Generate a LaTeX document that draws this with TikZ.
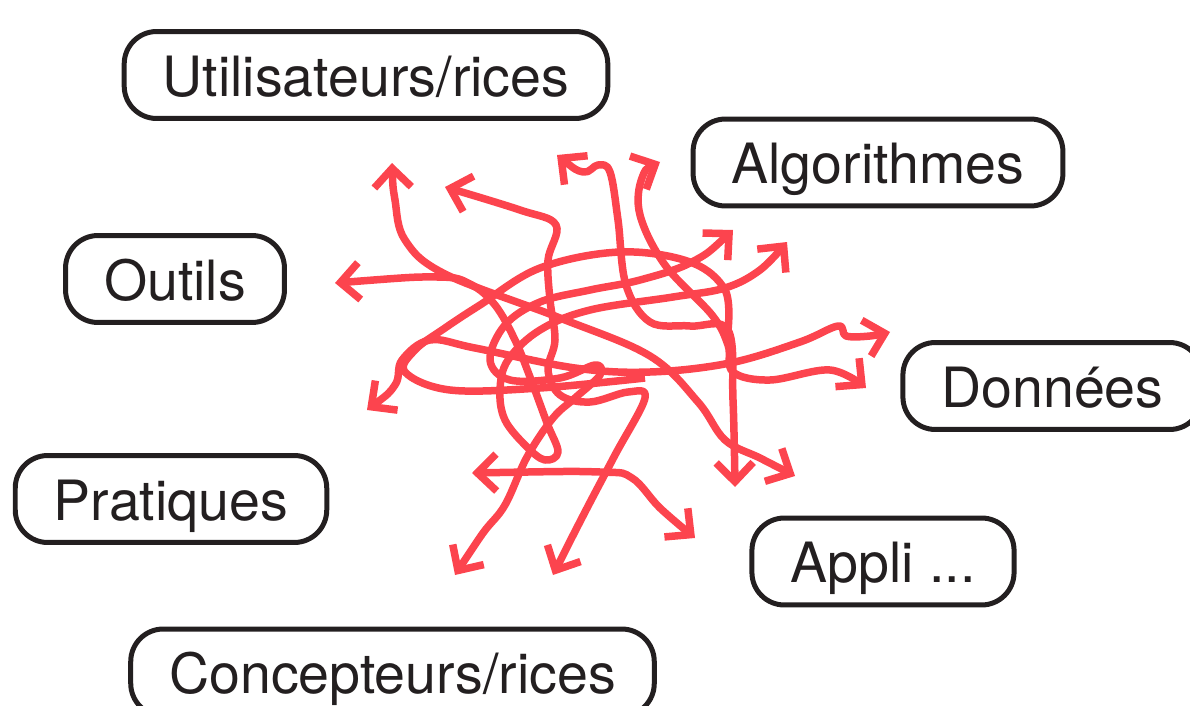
\documentclass[tikz,border=0pt]{standalone}
\usepackage{fontspec}
\setmainfont{TeX Gyre Heros}
\usetikzlibrary{arrows.meta}
\definecolor{rojo}{RGB}{252,68,78}
\definecolor{tinta}{RGB}{35,31,32}

\begin{document}
\begin{tikzpicture}[x=0.02cm, y=-0.02cm,
    caja/.style={draw=tinta, text=tinta, line width=0.1cm, rounded corners=0.65cm,
      minimum height=1.74cm, inner xsep=0.77cm, text height=24pt, text depth=0pt,
      font=\fontsize{31.6}{37}\selectfont},
    >={Straight Barb[length=3.8mm,width=7.4mm]},
    hilo/.style={draw=rojo, line width=0.15cm, line join=round, <->},
    suelto/.style={draw=rojo, line width=0.15cm, line join=round}]
  \useasboundingbox (0,0) rectangle (1190,706);

  % Cajas
  \node[caja] (usuarios) at (366,75) {Utilisateurs/rices};
  \node[caja] (algos) at (878,162.5) {Algorithmes};
  \node[caja] (outils) at (175,279) {Outils};
  \node[caja] (donnees) at (1052.5,386) {Données};
  \node[caja] (pratiques) at (171,499) {Pratiques};
  \node[caja] (appli) at (883,561.5) {Appli ...};
  \node[caja] (concep) at (392.5,672.5) {Concepteurs/rices};

  % Puntas
  \coordinate (p1) at (392,163);
  \coordinate (p2) at (445,187);
  \coordinate (p3) at (335,283);
  \coordinate (p4) at (557,155);
  \coordinate (p5) at (660,162);
  \coordinate (p6) at (733,230);
  \coordinate (p7) at (787,242);
  \coordinate (p8) at (890,332);
  \coordinate (p9) at (866,388);
  \coordinate (p10) at (735,487);
  \coordinate (p11) at (795,476);
  \coordinate (p12) at (695,538);
  \coordinate (p13) at (472,473);
  \coordinate (p14) at (455,575);
  \coordinate (p15) at (553,575);
  \coordinate (p16) at (367,410);

  % Enredo
  \draw[hilo] plot[smooth, tension=0.6] coordinates {(p1) (395,200) (405,240) (445,274) (560,318) (650,356) (698,402) (725,440) (760,458) (p11)};
  \draw[hilo] plot[smooth, tension=0.6] coordinates {(p4) (583,172) (598,165) (610,172) (618,220) (626,285) (650,322) (690,326) (728,330) (733,400) (p10)};
  \draw[hilo] plot[smooth, tension=0.6] coordinates {(p5) (642,178) (640,215) (665,265) (712,315) (728,345) (733,372) (770,380) (830,370) (p9)};
  \draw[hilo] plot[smooth, tension=0.6] coordinates {(p6) (692,262) (640,280) (590,290) (540,302) (505,325) (490,360) (510,380) (560,378) (595,365) (600,375) (575,398) (553,418) (527,457) (505,505) (483,533) (p14)};
  \draw[hilo] plot[smooth, tension=0.6] coordinates {(p16) (395,385) (402,360) (430,340) (475,348) (575,368) (650,372) (730,363) (800,342) (838,326) (846,336) (870,336) (p8)};
  \draw[hilo] plot[smooth, tension=0.6] coordinates {(p3) (437,277) (470,284) (495,305) (515,340) (530,377) (547,423) (558,452) (545,460) (527,447) (505,420) (500,390) (508,360) (540,330) (590,310) (673,297) (725,288) (760,270) (p7)};
  \draw[hilo] plot[smooth, tension=0.6] coordinates {(p15) (585,512) (615,455) (645,398) (628,392) (590,402) (560,395) (548,370) (555,340) (550,300) (548,260) (556,225) (520,210) (p2)};
  \draw[hilo] plot[smooth, tension=0.6] coordinates {(p13) (600,472) (632,478) (660,508) (p12)};
  \draw[suelto] plot[smooth, tension=0.6] coordinates {(645,378) (540,388) (450,390) (405,372) (415,350) (445,328) (480,305) (540,268) (620,252) (690,262) (725,290) (728,330)};
\end{tikzpicture}
\end{document}
